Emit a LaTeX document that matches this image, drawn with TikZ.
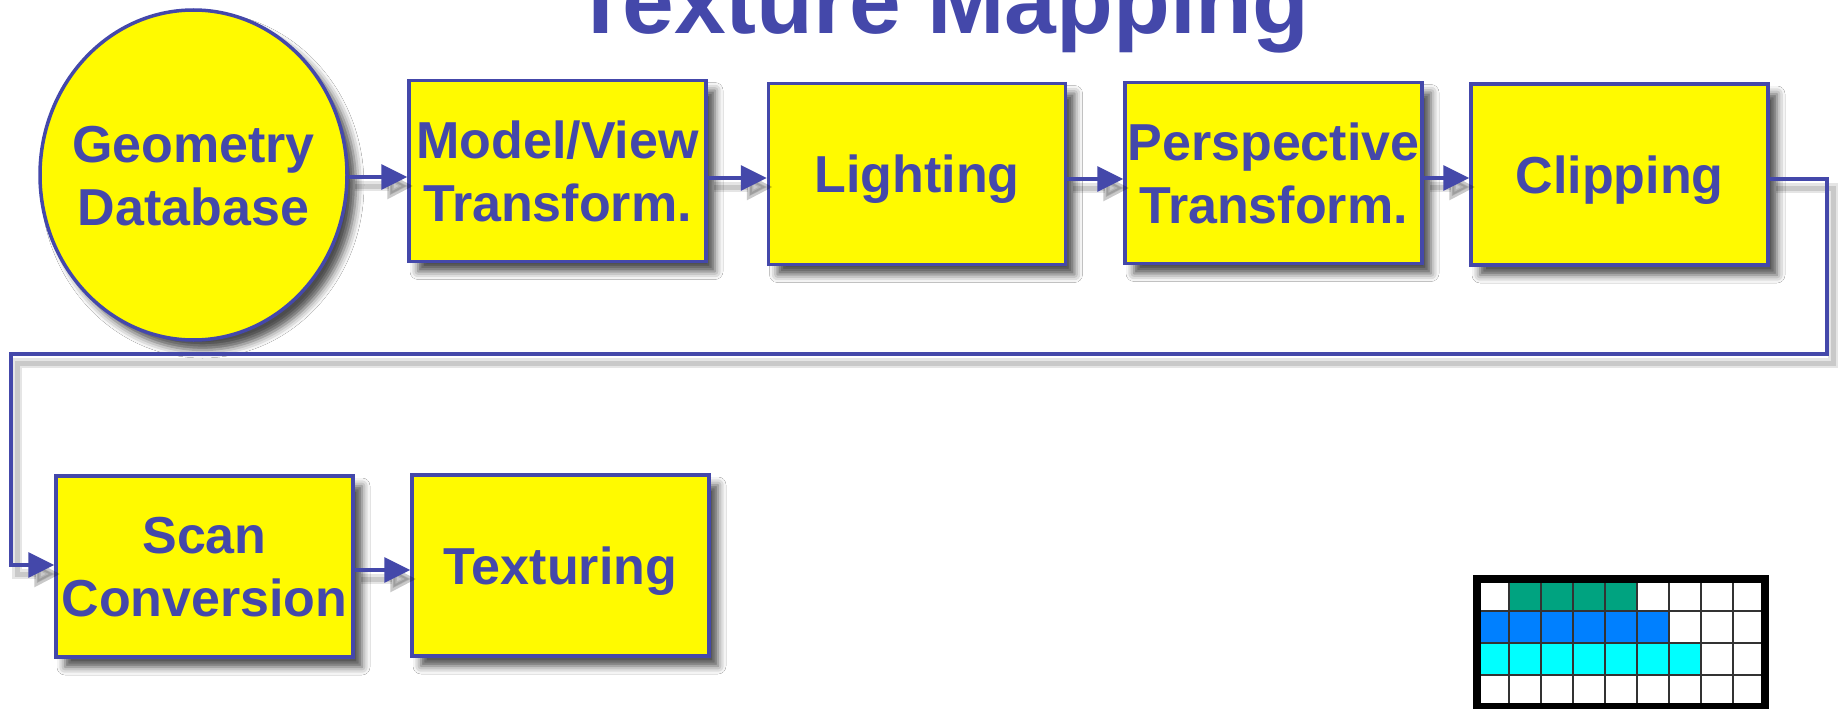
\documentclass[tikz,border=0pt]{standalone}
\usepackage{fontspec}
\setmainfont{Liberation Sans}
\usetikzlibrary{arrows.meta,shapes.geometric,shadows.blur}
\definecolor{tmblue}{RGB}{68,72,170}
\definecolor{tmyellow}{RGB}{255,250,0}
\definecolor{tmteal}{RGB}{0,163,128}
\definecolor{tmazure}{RGB}{0,128,255}
\definecolor{tmcyan}{RGB}{0,255,255}
\newcommand\twoline[2]{\vbox{\baselineskip=63pt\lineskiplimit=-200pt\halign{\hfil##\hfil\cr#1\cr#2\cr}}}
\begin{document}
\begin{tikzpicture}[x=1pt,y=-1pt,
  stagebase/.style={draw=tmblue, line width=3.5pt, fill=tmyellow, text=tmblue,
    font=\fontsize{52}{63}\selectfont\bfseries, inner sep=0pt,
    text height=37.5pt, text depth=0pt,
    blur shadow={shadow xshift=9pt, shadow yshift=-10pt, shadow blur radius=8pt, shadow opacity=70}},
  stagebox/.style={stagebase, rectangle, minimum width=297pt, minimum height=181pt},
  twostage/.style={stagebox, text height=100.5pt},
  stageell/.style={stagebase, ellipse, minimum width=307pt, minimum height=330pt, inner xsep=-20pt, text height=100.5pt},
  titletext/.style={text=tmblue, font=\fontsize{93}{100}\selectfont\bfseries, inner sep=0pt},
  arr/.style={draw=tmblue, line width=3.2pt, line join=miter, -{Triangle[length=26pt,width=25pt]},
    preaction={draw=black, opacity=.10, line width=10pt, transform canvas={xshift=6pt,yshift=-9pt}},
    preaction={draw=black, opacity=.12, line width=5pt, transform canvas={xshift=6pt,yshift=-9pt}}},
  gridline/.style={draw=black!80, line width=2pt},
]
\useasboundingbox[fill=white] (0,0) rectangle (1839,709);
\clip (0,0) rectangle (1839,709);
\node[titletext, anchor=base] (title) at (941,34) {Texture Mapping};
\node[stageell] (geo) at (193.5,175) {\twoline{Geometry}{Database}};
\node[twostage] (model) at (557.5,171) {\twoline{Model/View}{Transform.}};
\node[stagebox] (light) at (917,174) {Lighting};
\node[twostage] (persp) at (1273.5,173) {\twoline{Perspective}{Transform.}};
\node[stagebox] (clipping) at (1619.5,174.5) {Clipping};
\node[twostage] (scan) at (204.5,566.5) {\twoline{Scan}{Conversion}};
\node[stagebox] (textur) at (560.5,565.5) {Texturing};
\draw[arr] (geo.east |- 0,177) -- (model.west |- 0,177);
\draw[arr] (model.east |- 0,178) -- (light.west |- 0,178);
\draw[arr] (light.east |- 0,179) -- (persp.west |- 0,179);
\draw[arr] (persp.east |- 0,178) -- (clipping.west |- 0,178);
\draw[arr] (clipping.east |- 0,179) -- (1827,179) |- (11,354) |- (scan.west |- 0,565);
\draw[arr] (scan.east |- 0,570) -- (textur.west |- 0,570);
% texture grid
\fill[white] (1477,579) rectangle (1765,707);
\fill[tmteal] (1509,579) rectangle (1637,611);
\fill[tmazure] (1477,611) rectangle (1669,643);
\fill[tmcyan] (1477,643) rectangle (1701,675);
\foreach \i in {1,...,8} \draw[gridline] (1477+32*\i,579) -- (1477+32*\i,707);
\foreach \j in {1,2,3} \draw[gridline] (1477,579+32*\j) -- (1765,579+32*\j);
\draw[black, line width=8pt] (1477,579) rectangle (1765,707);
\end{tikzpicture}
\end{document}
